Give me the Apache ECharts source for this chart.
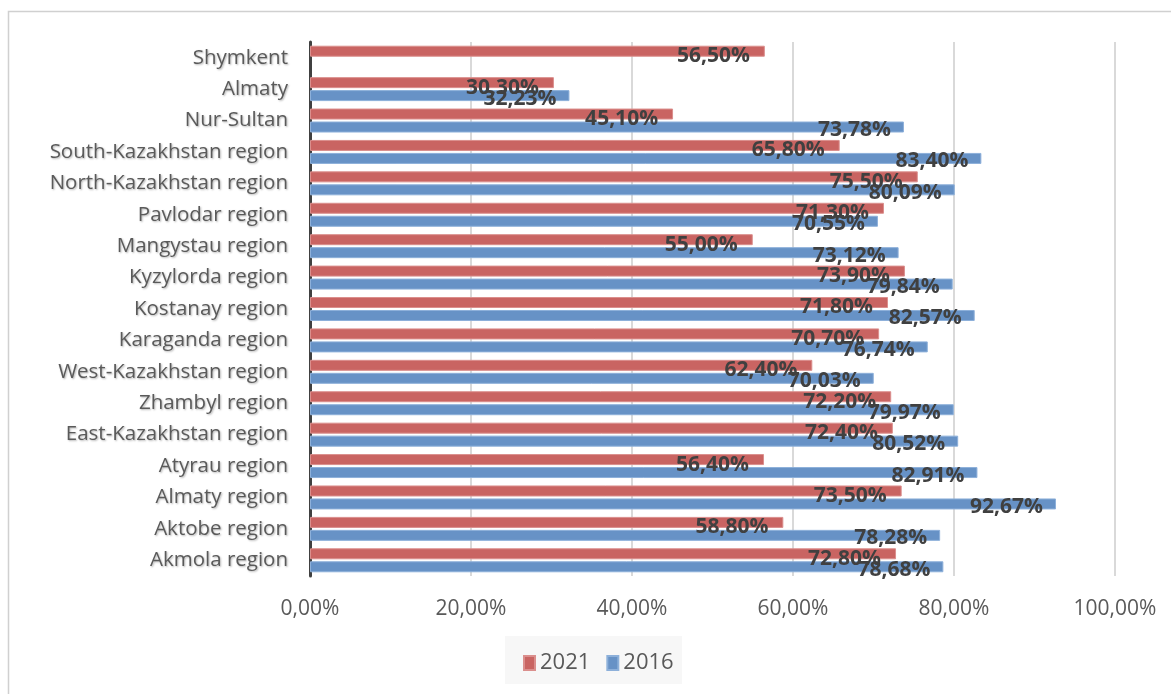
<!DOCTYPE html>
<html>
<head>
<meta charset="utf-8">
<script src="https://cdn.jsdelivr.net/npm/echarts@6/dist/echarts.min.js"></script>
<style>
html,body{margin:0;padding:0;background:#fff;}
#chart{width:1171px;height:694px;}
</style>
</head>
<body>
<div id="chart"></div>
<script>
// Categories from bottom to top
const categories = [
  'Akmola region','Aktobe region','Almaty region','Atyrau region','East-Kazakhstan region',
  'Zhambyl region','West-Kazakhstan region','Karaganda region','Kostanay region','Kyzylorda region',
  'Mangystau region','Pavlodar region','North-Kazakhstan region','South-Kazakhstan region',
  'Nur-Sultan','Almaty','Shymkent'
];
const values2021 = [72.80,58.80,73.50,56.40,72.40,72.20,62.40,70.70,71.80,73.90,55.00,71.30,75.50,65.80,45.10,30.30,56.50];
const values2016 = [78.68,78.28,92.67,82.91,80.52,79.97,70.03,76.74,82.57,79.84,73.12,70.55,80.09,83.40,73.78,32.23,null];
const xTicks = [0,20,40,60,80,100];

const fmt = v => v.toFixed(2).replace('.', ',') + '%';
const FONT = '"Open Sans","Noto Sans",sans-serif';

const chart = echarts.init(document.getElementById('chart'));
chart.setOption({
  animation:false,
  graphic:[
    {type:'rect', shape:{x:8.5,y:11.5,width:1200,height:720}, style:{fill:'none',stroke:'#D0D0D0',lineWidth:1.5}, z:-10},
    {type:'rect', shape:{x:505,y:636,width:177,height:48}, style:{fill:'#F7F7F7'}, z:-5}
  ],
  legend:{
    data:['2021','2016'],
    left:518, top:647,
    itemWidth:11, itemHeight:14, itemGap:16,
    icon:'rect',
    textStyle:{fontFamily:FONT,fontSize:22,color:'#595959'}
  },
  grid:{left:310,right:56,top:42,bottom:118,containLabel:false},
  xAxis:{
    type:'value', min:xTicks[0], max:xTicks[xTicks.length-1], interval:20,
    axisLine:{show:false}, axisTick:{show:false},
    splitLine:{lineStyle:{color:'#D9D9D9',width:2}},
    axisLabel:{formatter:v=>fmt(v),fontFamily:FONT,fontSize:21,color:'#595959',margin:23}
  },
  yAxis:{
    type:'category', data:categories,
    axisLine:{lineStyle:{color:'#404040',width:3}},
    axisTick:{show:false},
    axisLabel:{fontFamily:FONT,fontSize:20.5,color:'#5A5A5A',margin:22,
      textShadowColor:'rgba(0,0,0,0.3)',textShadowBlur:2,textShadowOffsetX:1,textShadowOffsetY:1}
  },
  series:[
    {
      name:'2021', type:'bar', data:values2021, barWidth:11, barGap:'18%',
      itemStyle:{color:'#C96462',borderColor:'#DB8F8D',borderWidth:1},
      label:{show:true,position:'insideRight',offset:[-10,5],formatter:p=>fmt(p.value),
        fontFamily:FONT,fontSize:21,fontWeight:'bold',color:'#404040'}
    },
    {
      name:'2016', type:'bar', data:values2016, barWidth:11, barGap:'18%',
      itemStyle:{color:'#6792C6',borderColor:'#8DB0DA',borderWidth:1},
      label:{show:true,position:'insideRight',offset:[-8,3],formatter:p=>p.value==null?'':fmt(p.value),
        fontFamily:FONT,fontSize:21,fontWeight:'bold',color:'#404040'}
    }
  ]
});
</script>
</body>
</html>
